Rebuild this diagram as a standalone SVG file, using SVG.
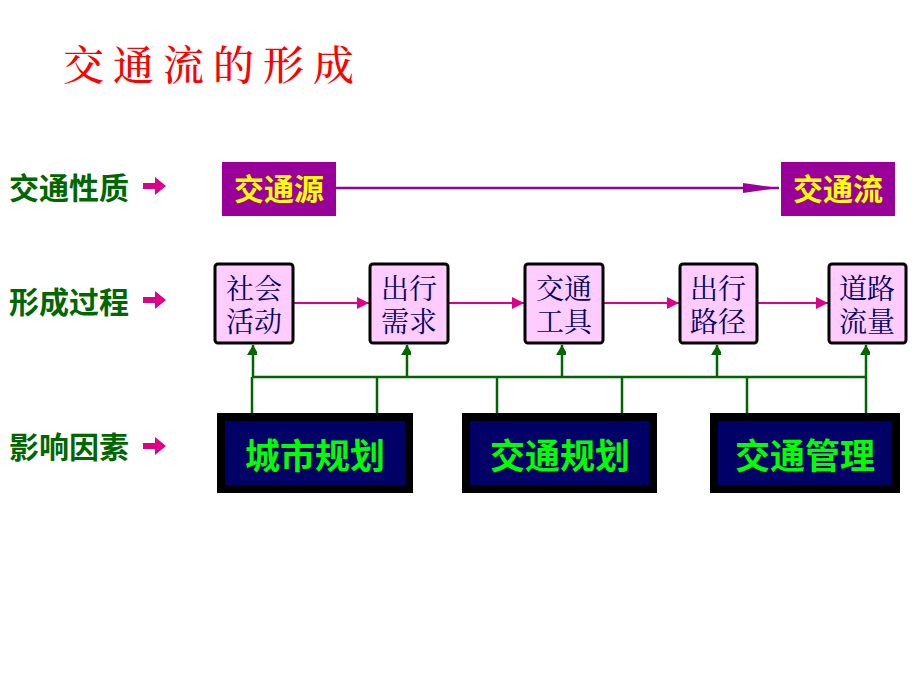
<svg xmlns="http://www.w3.org/2000/svg" width="920" height="690" viewBox="0 0 920 690">
<defs>
<style>
.title{font-family:"Noto Serif CJK SC","Noto Sans CJK SC",serif;font-size:41px;font-weight:500;fill:#ff0000;letter-spacing:9px}
.lbl{font-family:"Noto Sans CJK SC",sans-serif;font-size:30px;font-weight:bold;fill:#006600}
.src{fill:#990099}
.srct{font-family:"Noto Sans CJK SC",sans-serif;font-size:30px;font-weight:bold;fill:#ffff00;text-anchor:middle}
.proc{fill:#ffccff;stroke:#000;stroke-width:3}
.proct{font-family:"Noto Serif CJK SC","Noto Sans CJK SC",serif;font-size:28px;fill:#000066;text-anchor:middle}
.fac{fill:#000066;stroke:#000;stroke-width:8}
.fact{font-family:"Noto Sans CJK SC",sans-serif;font-size:35px;font-weight:bold;fill:#00ff00;text-anchor:middle}
.pk{stroke:#dd0088;stroke-width:2;fill:none}
.gr{stroke:#006600;stroke-width:2.5;fill:none}
</style>
<marker id="pkArr" markerWidth="12" markerHeight="12" refX="12" refY="6" orient="auto" markerUnits="userSpaceOnUse"><path d="M0,0 L12,6 L0,12 z" fill="#dd0088"/></marker>
<marker id="grArr" markerWidth="12" markerHeight="10" refX="10" refY="6" orient="auto" markerUnits="userSpaceOnUse"><path d="M0,0 L10,6 L0,12 z" fill="#006600"/></marker>
<marker id="puArr" markerWidth="36" markerHeight="12" refX="36" refY="6" orient="auto" markerUnits="userSpaceOnUse"><path d="M0,1 L36,6 L0,11 z" fill="#990099"/></marker>
<path id="bigArr" d="M0,-3 L12,-3 L12,-9 L23,0 L12,9 L12,3 L0,3 z" fill="#dd0088"/>
</defs>
<rect width="920" height="690" fill="#ffffff"/>
<g id="title"><text class="title" x="63" y="80">交通流的形成</text></g>
<g id="labels">
<text class="lbl" x="9" y="199">交通性质</text>
<use href="#bigArr" x="143" y="186"/>
<text class="lbl" x="9" y="313">形成过程</text>
<use href="#bigArr" x="143" y="300"/>
<text class="lbl" x="9" y="458">影响因素</text>
<use href="#bigArr" x="143" y="446"/>
</g>
<g id="connectors">
<line x1="336" y1="188" x2="779" y2="188" stroke="#990099" stroke-width="2.5" marker-end="url(#puArr)"/>
<line class="pk" x1="294" y1="303" x2="369" y2="303" marker-end="url(#pkArr)"/>
<line class="pk" x1="449" y1="303" x2="524" y2="303" marker-end="url(#pkArr)"/>
<line class="pk" x1="604" y1="303" x2="679" y2="303" marker-end="url(#pkArr)"/>
<line class="pk" x1="758" y1="303" x2="828" y2="303" marker-end="url(#pkArr)"/>
<line class="gr" x1="252" y1="377" x2="867" y2="377"/>
<line class="gr" x1="253" y1="377" x2="253" y2="345" marker-end="url(#grArr)"/>
<line class="gr" x1="407" y1="377" x2="407" y2="345" marker-end="url(#grArr)"/>
<line class="gr" x1="562" y1="377" x2="562" y2="345" marker-end="url(#grArr)"/>
<line class="gr" x1="717" y1="377" x2="717" y2="345" marker-end="url(#grArr)"/>
<line class="gr" x1="866" y1="377" x2="866" y2="345" marker-end="url(#grArr)"/>
<line class="gr" x1="252" y1="377" x2="252" y2="413"/>
<line class="gr" x1="377" y1="377" x2="377" y2="413"/>
<line class="gr" x1="497" y1="377" x2="497" y2="413"/>
<line class="gr" x1="622" y1="377" x2="622" y2="413"/>
<line class="gr" x1="747" y1="377" x2="747" y2="413"/>
<line class="gr" x1="866" y1="377" x2="866" y2="413"/>
</g>
<g id="n-source"><rect class="src" x="222" y="162" width="114" height="54"/><text class="srct" x="279" y="200">交通源</text></g>
<g id="n-flow"><rect class="src" x="781" y="162" width="114" height="54"/><text class="srct" x="838" y="200">交通流</text></g>
<g id="n-social"><rect class="proc" x="215" y="264" width="78" height="79" rx="3"/><text class="proct" x="254" y="299">社会<tspan x="254" y="332">活动</tspan></text></g>
<g id="n-demand"><rect class="proc" x="370" y="264" width="78" height="79" rx="3"/><text class="proct" x="409" y="299">出行<tspan x="409" y="332">需求</tspan></text></g>
<g id="n-tool"><rect class="proc" x="525" y="264" width="78" height="79" rx="3"/><text class="proct" x="564" y="299">交通<tspan x="564" y="332">工具</tspan></text></g>
<g id="n-route"><rect class="proc" x="680" y="264" width="77" height="79" rx="3"/><text class="proct" x="718" y="299">出行<tspan x="718" y="332">路径</tspan></text></g>
<g id="n-road"><rect class="proc" x="829" y="264" width="77" height="79" rx="3"/><text class="proct" x="867" y="299">道路<tspan x="867" y="332">流量</tspan></text></g>
<g id="n-city"><rect class="fac" x="221" y="417" width="188" height="72"/><text class="fact" x="315" y="469">城市规划</text></g>
<g id="n-tplan"><rect class="fac" x="466" y="417" width="187" height="72"/><text class="fact" x="560" y="469">交通规划</text></g>
<g id="n-tmgmt"><rect class="fac" x="714" y="417" width="182" height="72"/><text class="fact" x="805" y="469">交通管理</text></g>
</svg>
